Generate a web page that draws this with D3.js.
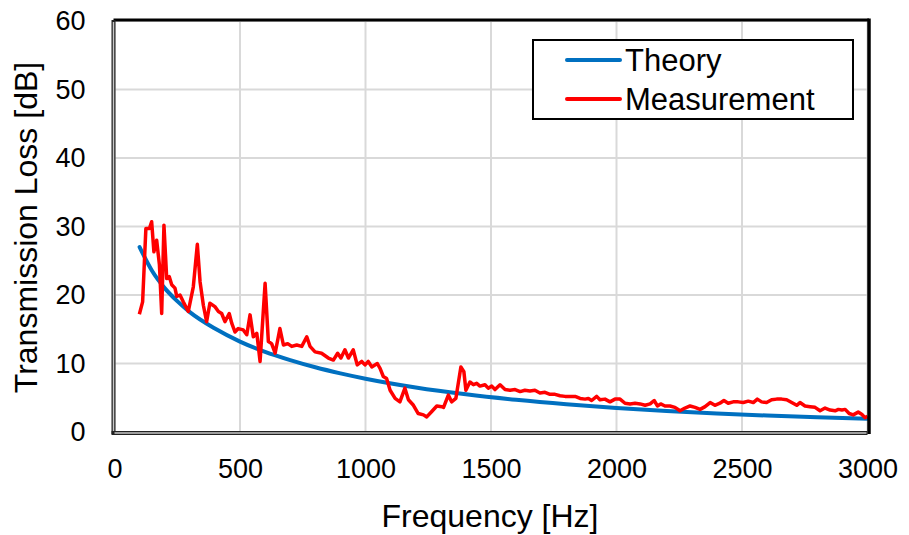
<!DOCTYPE html>
<html>
<head>
<meta charset="utf-8">
<script src="https://cdn.jsdelivr.net/npm/d3@7"></script>
<style>
  body { margin: 0; background: #fff; }
  svg { font-family: "Liberation Sans", Arial, sans-serif; }
</style>
</head>
<body>
<svg id="chart" width="909" height="535"></svg>
<script>
// ticks
const xTicks = [0, 500, 1000, 1500, 2000, 2500, 3000];
const yTicks = [0, 10, 20, 30, 40, 50, 60];

// theory curve
const theoryFreq = [100, 150, 200, 250, 300, 400, 500, 600, 700, 800, 900, 1000,
    1200, 1400, 1600, 1800, 2000, 2200, 2400, 2600, 2800, 3000];
const theoryTL = [27.0, 23.5, 21.0, 19.1, 17.5, 15.1, 13.2, 11.7, 10.5, 9.45, 8.56, 7.78,
    6.5, 5.5, 4.7, 4.05, 3.52, 3.08, 2.71, 2.4, 2.14, 1.92];

const measFreq = [99, 112, 125, 139, 148, 157, 168, 179, 188, 197, 208, 218, 228, 241, 248, 261, 274, 294,
    314, 330, 341, 354, 367, 380, 400, 414, 427, 440, 457, 467, 480, 493, 513, 527, 540, 553, 567, 580,
    600, 613, 626, 640, 659, 673, 690, 706, 726, 746, 766, 779, 799, 825, 852, 872, 889, 902, 918, 932,
    951, 967, 985, 998, 1011, 1025, 1047, 1058, 1071, 1084, 1098, 1118, 1137, 1157, 1171, 1191, 1210,
    1231, 1244, 1264, 1284, 1304, 1311, 1330, 1343, 1360, 1380, 1392, 1400, 1416, 1430, 1443, 1456,
    1476, 1489, 1503, 1516, 1536, 1556, 1576, 1596, 1616, 1635, 1655, 1675, 1695, 1715, 1735, 1755,
    1775, 1795, 1815, 1835, 1855, 1875, 1888, 1901, 1921, 1934, 1954, 1974, 1994, 2014, 2034, 2054,
    2074, 2094, 2114, 2134, 2150, 2163, 2176, 2193, 2213, 2233, 2253, 2273, 2293, 2313, 2333, 2353,
    2373, 2392, 2412, 2428, 2445, 2465, 2485, 2505, 2525, 2545, 2561, 2578, 2598, 2618, 2638, 2658,
    2678, 2698, 2718, 2731, 2751, 2771, 2791, 2811, 2831, 2851, 2871, 2884, 2898, 2911, 2927, 2943,
    2963, 2977, 2990, 3000];
const measTL = [17.2, 19.0, 29.7, 29.7, 30.7, 26.3, 28.0, 24.4, 17.3, 30.2, 22.4, 22.7, 21.5, 21.0, 19.8, 20.0, 19.0, 17.6,
    21.2, 27.4, 21.9, 18.5, 16.1, 18.8, 18.3, 17.6, 17.3, 16.1, 17.3, 15.9, 14.6, 15.1, 14.9, 14.2, 17.1, 13.9, 14.4, 10.3,
    21.7, 13.2, 12.9, 11.5, 15.1, 12.7, 12.9, 12.5, 12.7, 12.5, 13.9, 12.5, 11.7, 11.5, 10.8, 10.5, 11.5, 10.8, 12.0, 10.8,
    12.0, 9.8, 10.3, 9.8, 10.3, 9.5, 10.0, 9.3, 8.1, 7.8, 6.1, 4.9, 4.4, 6.4, 4.7, 3.9, 2.7,
    2.5, 2.2, 3.0, 3.8, 3.7, 3.6, 5.4, 4.4, 4.9, 9.5, 8.8, 6.1, 7.3, 6.9, 7.1, 6.7,
    6.9, 6.4, 6.7, 6.2, 6.9, 6.2, 6.1, 6.2, 5.9, 6.1, 6.0, 6.1, 5.7, 5.8, 5.5, 5.5,
    5.3, 5.2, 5.2, 5.2, 4.9, 4.8, 4.9, 4.6, 5.2, 4.7, 4.8, 4.4, 4.8, 4.8, 4.2, 4.1,
    4.2, 4.1, 3.9, 4.1, 4.6, 3.8, 4.1, 3.8, 3.8, 3.6, 3.1, 3.5, 3.8, 3.6, 3.3, 3.7,
    4.3, 3.9, 4.2, 4.6, 4.2, 4.4, 4.4, 4.3, 4.5, 4.3, 4.8, 4.4, 4.3, 4.7, 4.8, 4.8,
    4.7, 4.3, 3.9, 4.3, 3.8, 3.7, 3.6, 3.1, 3.5, 3.2, 3.1, 3.3, 3.2, 3.3, 2.7, 2.5,
    2.9, 2.6, 2.1, 2.3];

const legendNames = ["Theory", "Measurement"];
const colors = { theory: "#0070c0", meas: "#ff0000" };

const svg = d3.select("#chart");
const area = { left: 114.5, right: 867.5, top: 21, bottom: 432 };

const scaleX = d3.scaleLinear().domain([0, 3000]).range([area.left, area.right]);
const scaleY = d3.scaleLinear().domain([0, 60]).range([area.bottom, area.top]);

// grid
svg.append("g")
    .selectAll("line")
    .data(xTicks)
    .join("line")
    .attr("x1", d => scaleX(d)).attr("x2", d => scaleX(d))
    .attr("y1", area.top).attr("y2", area.bottom)
    .attr("stroke", "#d9d9d9").attr("stroke-width", 2);
svg.append("g")
    .selectAll("line")
    .data(yTicks)
    .join("line")
    .attr("x1", area.left).attr("x2", area.right)
    .attr("y1", d => scaleY(d)).attr("y2", d => scaleY(d))
    .attr("stroke", "#d9d9d9").attr("stroke-width", 2);

// axes (labels only)
const axisX = d3.axisBottom(scaleX).tickValues(xTicks).tickFormat(d3.format("d"))
    .tickSize(0).tickPadding(27);
const gx = svg.append("g")
    .attr("transform", `translate(0, ${area.bottom})`)
    .call(axisX);
gx.select(".domain").remove();
gx.selectAll("text").attr("font-size", 27).attr("fill", "#000")
    .attr("font-family", "Liberation Sans, Arial, sans-serif");

const axisY = d3.axisLeft(scaleY).tickValues(yTicks).tickSize(0).tickPadding(29);
const gy = svg.append("g")
    .attr("transform", `translate(${area.left}, 0)`)
    .call(axisY);
gy.select(".domain").remove();
gy.selectAll("text").attr("font-size", 27).attr("fill", "#000")
    .attr("font-family", "Liberation Sans, Arial, sans-serif");

// series
const theoryData = theoryFreq.map((f, i) => ({ f: f, v: theoryTL[i] }));
const measData = measFreq.map((f, i) => ({ f: f, v: measTL[i] }));

const lineTheory = d3.line()
    .x(d => scaleX(d.f)).y(d => scaleY(d.v))
    .curve(d3.curveMonotoneX);
const lineMeas = d3.line()
    .x(d => scaleX(d.f)).y(d => scaleY(d.v))
    .curve(d3.curveLinear);

svg.append("path")
    .datum(theoryData)
    .attr("fill", "none")
    .attr("stroke", colors.theory)
    .attr("stroke-width", 4)
    .attr("stroke-linecap", "round")
    .attr("d", lineTheory);

svg.append("path")
    .datum(measData)
    .attr("fill", "none")
    .attr("stroke", colors.meas)
    .attr("stroke-width", 3.5)
    .attr("stroke-linejoin", "round")
    .attr("d", lineMeas);

// frame
svg.append("line")
    .attr("x1", area.left - 1).attr("x2", area.right + 1.5)
    .attr("y1", area.top - 1).attr("y2", area.top - 1)
    .attr("stroke", "#000").attr("stroke-width", 3);
svg.append("line")
    .attr("x1", area.right + 1.5).attr("x2", area.right + 1.5)
    .attr("y1", area.top - 2.5).attr("y2", area.bottom + 2)
    .attr("stroke", "#000").attr("stroke-width", 3.5);
svg.append("line")
    .attr("x1", area.left - 1).attr("x2", area.left - 1)
    .attr("y1", area.top - 1).attr("y2", area.bottom + 2)
    .attr("stroke", "#222").attr("stroke-width", 4);
svg.append("line")
    .attr("x1", area.left - 1).attr("x2", area.left - 1)
    .attr("y1", area.top + 1).attr("y2", area.bottom)
    .attr("stroke", "#c8c8c8").attr("stroke-width", 1.5);
svg.append("line")
    .attr("x1", area.left - 3).attr("x2", area.right)
    .attr("y1", area.bottom + 1).attr("y2", area.bottom + 1)
    .attr("stroke", "#222").attr("stroke-width", 4);
svg.append("line")
    .attr("x1", area.left).attr("x2", area.right - 1)
    .attr("y1", area.bottom + 1).attr("y2", area.bottom + 1)
    .attr("stroke", "#c8c8c8").attr("stroke-width", 1.5);

// axis titles
svg.append("text")
    .attr("x", 490)
    .attr("y", 527)
    .attr("text-anchor", "middle")
    .attr("font-size", 32)
    .text("Frequency [Hz]");

svg.append("text")
    .attr("transform", `translate(37, ${(area.top + area.bottom) / 2 + 1}) rotate(-90)`)
    .attr("text-anchor", "middle")
    .attr("font-size", 32)
    .text("Transmission Loss [dB]");

// legend
const legend = svg.append("g").attr("transform", "translate(533, 40)");
legend.append("rect")
    .attr("width", 320).attr("height", 79)
    .attr("fill", "#fff").attr("stroke", "#000").attr("stroke-width", 2);
const legendColors = [colors.theory, colors.meas];
legendNames.forEach((name, i) => {
    const y = 20 + i * 39;
    legend.append("line")
        .attr("x1", 34).attr("x2", 87)
        .attr("y1", y).attr("y2", y)
        .attr("stroke", legendColors[i]).attr("stroke-width", 4)
        .attr("stroke-linecap", "round");
    legend.append("text")
        .attr("x", 92).attr("y", y + 11)
        .attr("font-size", 31)
        .text(name);
});
</script>
</body>
</html>
